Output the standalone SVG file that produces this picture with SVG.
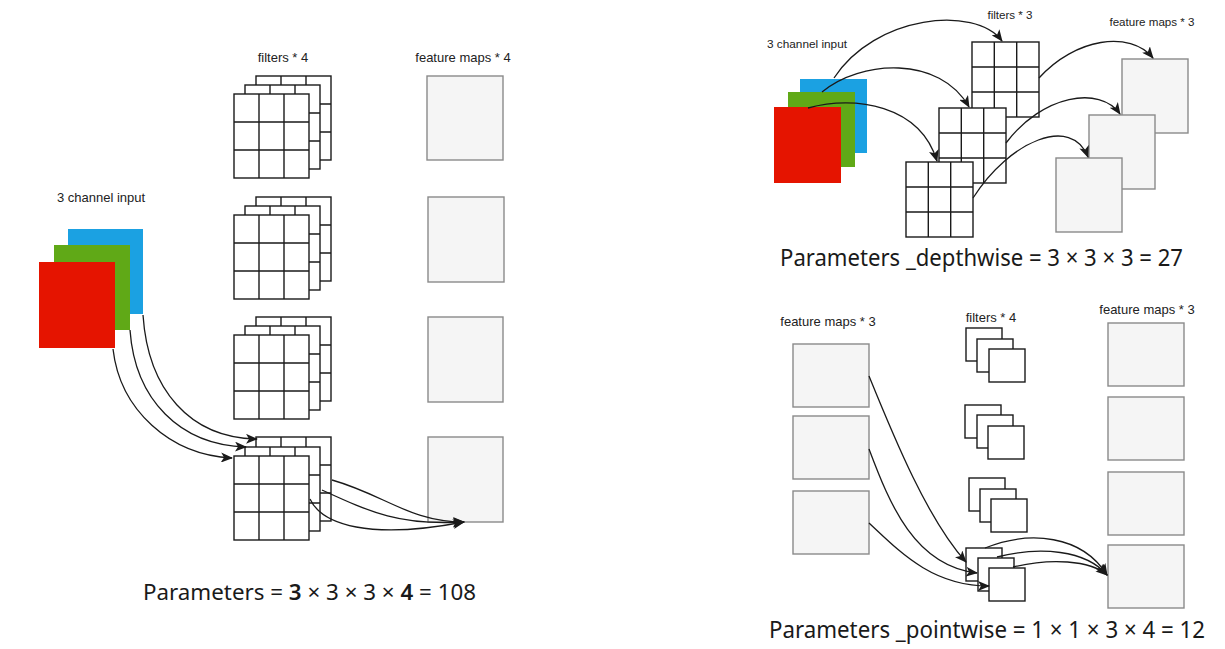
<svg xmlns="http://www.w3.org/2000/svg" xmlns:xlink="http://www.w3.org/1999/xlink" width="1225" height="649" viewBox="0 0 1225 649">
<style>
.lbl{font-family:"Liberation Sans",Arial,sans-serif;fill:#222;}
.formula{font-family:"Noto Sans","Open Sans",sans-serif;fill:#1a1a1a;}
.fm{fill:#f5f5f5;stroke:#8a8a8a;stroke-width:1.4;}
.sq{fill:#fff;stroke:#1a1a1a;stroke-width:1.4;}
.gl{stroke:#1a1a1a;stroke-width:1.4;fill:none;}
.conn path{fill:none;stroke:#1a1a1a;stroke-width:1.3;marker-end:url(#arr);}
</style>
<defs>
<marker id="arr" markerUnits="userSpaceOnUse" markerWidth="12" markerHeight="10" viewBox="0 0 12 10" refX="11" refY="5" orient="auto">
<path d="M0,0 L12,5 L0,10 L3,5 z" fill="#1a1a1a"/>
</marker>
<g id="g9L">
<rect class="sq" x="0" y="0" width="75" height="84"/>
<path class="gl" d="M25,0V84M50,0V84M0,28H75M0,56H75"/>
</g>
<g id="g9R">
<rect class="sq" x="0" y="0" width="67" height="75"/>
<path class="gl" d="M22.3,0V75M44.7,0V75M0,25H67M0,50H67"/>
</g>
<rect id="s1" class="sq" x="0" y="0" width="36" height="33"/>
</defs>
<rect x="0" y="0" width="1225" height="649" fill="#ffffff"/>

<!-- LEFT PANEL -->
<text class="lbl" x="283" y="62" font-size="13" text-anchor="middle">filters * 4</text>
<text class="lbl" x="463" y="62" font-size="13" text-anchor="middle">feature maps * 4</text>
<text class="lbl" x="101" y="202" font-size="13" text-anchor="middle">3 channel input</text>

<g id="left-input">
<rect x="68" y="229" width="75" height="85" fill="#1ba1e2"/>
<rect x="54" y="245" width="76" height="85" fill="#60a917"/>
<rect x="39" y="262" width="76" height="86" fill="#e51400"/>
</g>

<g id="left-filters-1">
<use xlink:href="#g9L" x="256" y="76"/><use xlink:href="#g9L" x="245" y="85"/><use xlink:href="#g9L" x="234" y="94"/>
</g>
<g id="left-filters-2">
<use xlink:href="#g9L" x="256" y="197"/><use xlink:href="#g9L" x="245" y="206"/><use xlink:href="#g9L" x="234" y="215"/>
</g>
<g id="left-filters-3">
<use xlink:href="#g9L" x="256" y="317"/><use xlink:href="#g9L" x="245" y="326"/><use xlink:href="#g9L" x="234" y="335"/>
</g>
<g id="left-filters-4">
<use xlink:href="#g9L" x="256" y="437"/><use xlink:href="#g9L" x="245" y="447"/><use xlink:href="#g9L" x="234" y="456"/>
</g>

<g id="left-fmaps">
<rect class="fm" x="427" y="76" width="76" height="84"/>
<rect class="fm" x="428" y="197" width="76" height="85"/>
<rect class="fm" x="428" y="317" width="75" height="85"/>
<rect class="fm" x="428" y="437" width="75" height="85"/>
</g>

<g id="left-connectors" class="conn">
<path d="M143,315 C148,390 190,438 257,439"/>
<path d="M130,330 C135,400 180,445 246,447"/>
<path d="M113,349 C120,410 170,455 232,458"/>
<path d="M332,480 C385,495 410,522 464,522"/>
<path d="M322,490 C370,512 400,526 464,522"/>
<path d="M310,499 C322,525 370,540 464,522"/>
</g>

<text class="formula" x="143" y="600" font-size="21.5" textLength="333" lengthAdjust="spacingAndGlyphs">Parameters = <tspan font-weight="600">3</tspan> × 3 × 3 × <tspan font-weight="600">4</tspan> = 108</text>

<!-- TOP RIGHT PANEL -->
<text class="lbl" x="767" y="48" font-size="11.8">3 channel input</text>
<text class="lbl" x="1010" y="19" font-size="11.6" text-anchor="middle">filters * 3</text>
<text class="lbl" x="1152" y="26" font-size="11.6" text-anchor="middle">feature maps * 3</text>

<g id="dw-input">
<rect x="800" y="79" width="67" height="74" fill="#1ba1e2"/>
<rect x="788" y="92" width="67" height="75" fill="#60a917"/>
<rect x="774" y="107" width="67" height="76" fill="#e51400"/>
</g>

<g id="dw-filters">
<use xlink:href="#g9R" x="972" y="42"/>
<use xlink:href="#g9R" x="939" y="108"/>
<use xlink:href="#g9R" x="906" y="162"/>
</g>

<g id="dw-fmaps">
<rect class="fm" x="1122" y="59" width="66" height="74"/>
<rect class="fm" x="1089" y="115" width="66" height="74"/>
<rect class="fm" x="1056" y="158" width="66" height="74"/>
</g>

<g id="dw-connectors" class="conn">
<path d="M834,78 C875,15 975,5 1002,41"/>
<path d="M822,92 C860,60 940,55 969,107"/>
<path d="M808,108 C855,95 920,105 937,161"/>
<path d="M1039,78 C1075,38 1130,30 1153,58"/>
<path d="M1006,143 C1042,95 1100,85 1120,114"/>
<path d="M973,198 C1010,140 1072,115 1088,157"/>
</g>

<text class="formula" x="780" y="266" font-size="23" textLength="403" lengthAdjust="spacingAndGlyphs">Parameters _depthwise = 3 × 3 × 3 = 27</text>

<!-- BOTTOM RIGHT PANEL -->
<text class="lbl" x="828" y="326" font-size="13" text-anchor="middle">feature maps * 3</text>
<text class="lbl" x="991" y="322" font-size="13" text-anchor="middle">filters * 4</text>
<text class="lbl" x="1147" y="314" font-size="13" text-anchor="middle">feature maps * 3</text>

<g id="pw-fmaps-in">
<rect class="fm" x="793" y="344" width="76" height="63"/>
<rect class="fm" x="793" y="416" width="76" height="63"/>
<rect class="fm" x="793" y="491" width="76" height="63"/>
</g>

<g id="pw-filters-1"><use xlink:href="#s1" x="966" y="328"/><use xlink:href="#s1" x="977" y="339"/><use xlink:href="#s1" x="989" y="349"/></g>
<g id="pw-filters-2"><use xlink:href="#s1" x="965" y="405"/><use xlink:href="#s1" x="977" y="415"/><use xlink:href="#s1" x="988" y="426"/></g>
<g id="pw-filters-3"><use xlink:href="#s1" x="969" y="478"/><use xlink:href="#s1" x="980" y="489"/><use xlink:href="#s1" x="991" y="499"/></g>
<g id="pw-filters-4"><use xlink:href="#s1" x="966" y="548"/><use xlink:href="#s1" x="978" y="558"/><use xlink:href="#s1" x="989" y="568"/></g>

<g id="pw-fmaps-out">
<rect class="fm" x="1108" y="323" width="76" height="63"/>
<rect class="fm" x="1108" y="397" width="76" height="63"/>
<rect class="fm" x="1108" y="472" width="76" height="63"/>
<rect class="fm" x="1108" y="545" width="76" height="63"/>
</g>

<g id="pw-connectors" class="conn">
<path d="M869,376 C895,440 928,520 966,562"/>
<path d="M869,449 C890,505 915,566 977,573"/>
<path d="M869,523 C900,552 932,586 989,586"/>
<path d="M985,548 C1030,530 1082,535 1107,575"/>
<path d="M997,557 C1040,546 1086,550 1107,575"/>
<path d="M1013,567 C1050,558 1090,560 1107,575"/>
</g>

<text class="formula" x="769" y="638" font-size="23" textLength="436" lengthAdjust="spacingAndGlyphs">Parameters _pointwise = 1 × 1 × 3 × 4 = 12</text>
</svg>
